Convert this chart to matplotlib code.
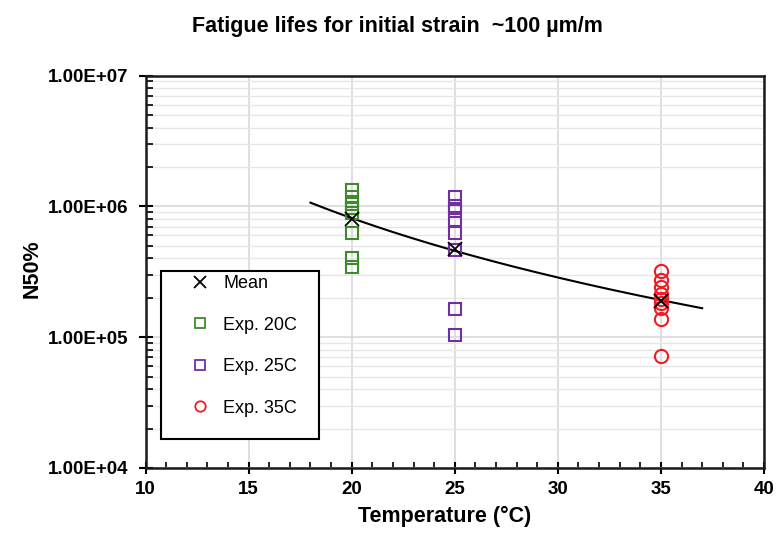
import numpy as np
import matplotlib
matplotlib.use("Agg")
import matplotlib.pyplot as plt
from matplotlib.ticker import FixedLocator, LogLocator, NullFormatter, FuncFormatter
from matplotlib.lines import Line2D
from matplotlib.patches import Rectangle

plt.rcParams['font.family'] = ['Liberation Sans', 'DejaVu Sans']

# ---- data ----
temp_20 = [20, 20, 20, 20, 20, 20, 20, 20]
n_20 = [1.33e6, 1.18e6, 1.05e6, 0.97e6, 0.89e6, 0.62e6, 0.40e6, 0.345e6]
temp_25 = [25, 25, 25, 25, 25, 25, 25, 25]
n_25 = [1.17e6, 1.00e6, 0.92e6, 0.78e6, 0.62e6, 0.46e6, 1.65e5, 1.04e5]
temp_35 = [35, 35, 35, 35, 35, 35, 35, 35, 35]
n_35 = [3.2e5, 2.72e5, 2.42e5, 2.14e5, 1.95e5, 1.82e5, 1.66e5, 1.38e5, 7.2e4]
mean_temp = [20, 25, 35]
mean_n = [8.0e5, 4.7e5, 1.9e5]
trend_range = [18, 37]

title = "Fatigue lifes for initial strain  ~100 µm/m"
xlabel = "Temperature (°C)"
ylabel = "N50%"
labels = ['Mean', 'Exp. 20C', 'Exp. 25C', 'Exp. 35C']

# ---- power-law trendline fitted to the means ----
b, a = np.polyfit(np.log10(mean_temp), np.log10(mean_n), 1)
t_fit = np.linspace(trend_range[0], trend_range[1], 200)
n_fit = 10 ** a * t_fit ** b

W, H = 778, 535
fig = plt.figure(figsize=(W / 100, H / 100), dpi=100)
ax = fig.add_axes([145.5 / W, 1 - 468 / H, (764 - 145.5) / W, (468 - 75.5) / H])

green = '#3E8A2C'
purple = '#7030A0'
red = '#EE1C25'

ax.plot(t_fit, n_fit, color='black', lw=1.5, zorder=3)
ax.plot(temp_20, n_20, ls='none', marker='s', ms=9.3, mfc='none', mec=green, mew=1.5, zorder=4)
ax.plot(temp_25, n_25, ls='none', marker='s', ms=9.3, mfc='none', mec=purple, mew=1.5, zorder=4)
ax.plot(temp_35, n_35, ls='none', marker='o', ms=9.5, mfc='none', mec=red, mew=1.5, zorder=4)
ax.plot(mean_temp, mean_n, ls='none', marker='x', ms=10, mec='black', mew=1.3, zorder=5)

ax.set_yscale('log')
ax.set_xlim(10, 40)
ax.set_ylim(1e4, 1e7)
ax.xaxis.set_major_locator(FixedLocator([10, 15, 20, 25, 30, 35, 40]))
ax.xaxis.set_minor_locator(FixedLocator(np.arange(10, 41, 1)))
ax.yaxis.set_major_locator(LogLocator(base=10, numticks=10))
ax.yaxis.set_minor_locator(LogLocator(base=10, subs=np.arange(2, 10), numticks=20))
ax.yaxis.set_minor_formatter(NullFormatter())
ax.yaxis.set_major_formatter(FuncFormatter(lambda v, p: "1.00E+%02d" % int(round(np.log10(v)))))

ax.grid(True, which='major', axis='both', color='#d9d9d9', lw=1.2, zorder=0)
ax.grid(True, which='minor', axis='y', color='#e6e6e6', lw=1.0, zorder=0)
ax.set_axisbelow(True)

for s in ax.spines.values():
    s.set_linewidth(1.8)
    s.set_color('#1a1a1a')

ax.tick_params(axis='x', which='major', direction='inout', length=9, width=1.5, labelsize=13.5, pad=4.5)
ax.tick_params(axis='x', which='minor', direction='in', length=4, width=1.2)
ax.tick_params(axis='y', which='major', direction='inout', length=10, width=1.5, labelsize=13.5, pad=7.5)
ax.tick_params(axis='y', which='minor', direction='in', length=5, width=1.2)
for lab in ax.get_xticklabels() + ax.get_yticklabels():
    lab.set_fontweight('bold')

fig.text(445 / W, 1 - 522 / H, xlabel, ha='center', va='baseline', fontsize=15.5, fontweight='bold')
fig.text(32 / W, 1 - 269 / H, ylabel, ha='center', va='center', rotation=90, fontsize=15.5, fontweight='bold')
fig.text(397 / W, 1 - 32 / H, title, ha='center', va='baseline', fontsize=15.5, fontweight='bold')

# legend box (Excel-style frame)
ax.add_patch(Rectangle((161 / W, 1 - 439 / H), (319 - 161) / W, (439 - 271) / H,
                       transform=fig.transFigure, facecolor='white', edgecolor='black',
                       lw=1.5, zorder=6, clip_on=False))
handles = [
    Line2D([], [], ls='none', marker='x', ms=8, mec='black', mew=1.3),
    Line2D([], [], ls='none', marker='s', ms=7.5, mfc='none', mec=green, mew=1.3),
    Line2D([], [], ls='none', marker='s', ms=7.5, mfc='none', mec=purple, mew=1.3),
    Line2D([], [], ls='none', marker='o', ms=7.5, mfc='none', mec=red, mew=1.3),
]
leg = fig.legend(handles, labels, loc='upper left', bbox_to_anchor=(191 / W, 1 - 275 / H),
                 bbox_transform=fig.transFigure, frameon=False, fontsize=13,
                 labelspacing=1.36, borderpad=0, handlelength=1.0, handletextpad=0.78,
                 borderaxespad=0)
leg.set_zorder(7)

fig.savefig('out.png', dpi=100)
